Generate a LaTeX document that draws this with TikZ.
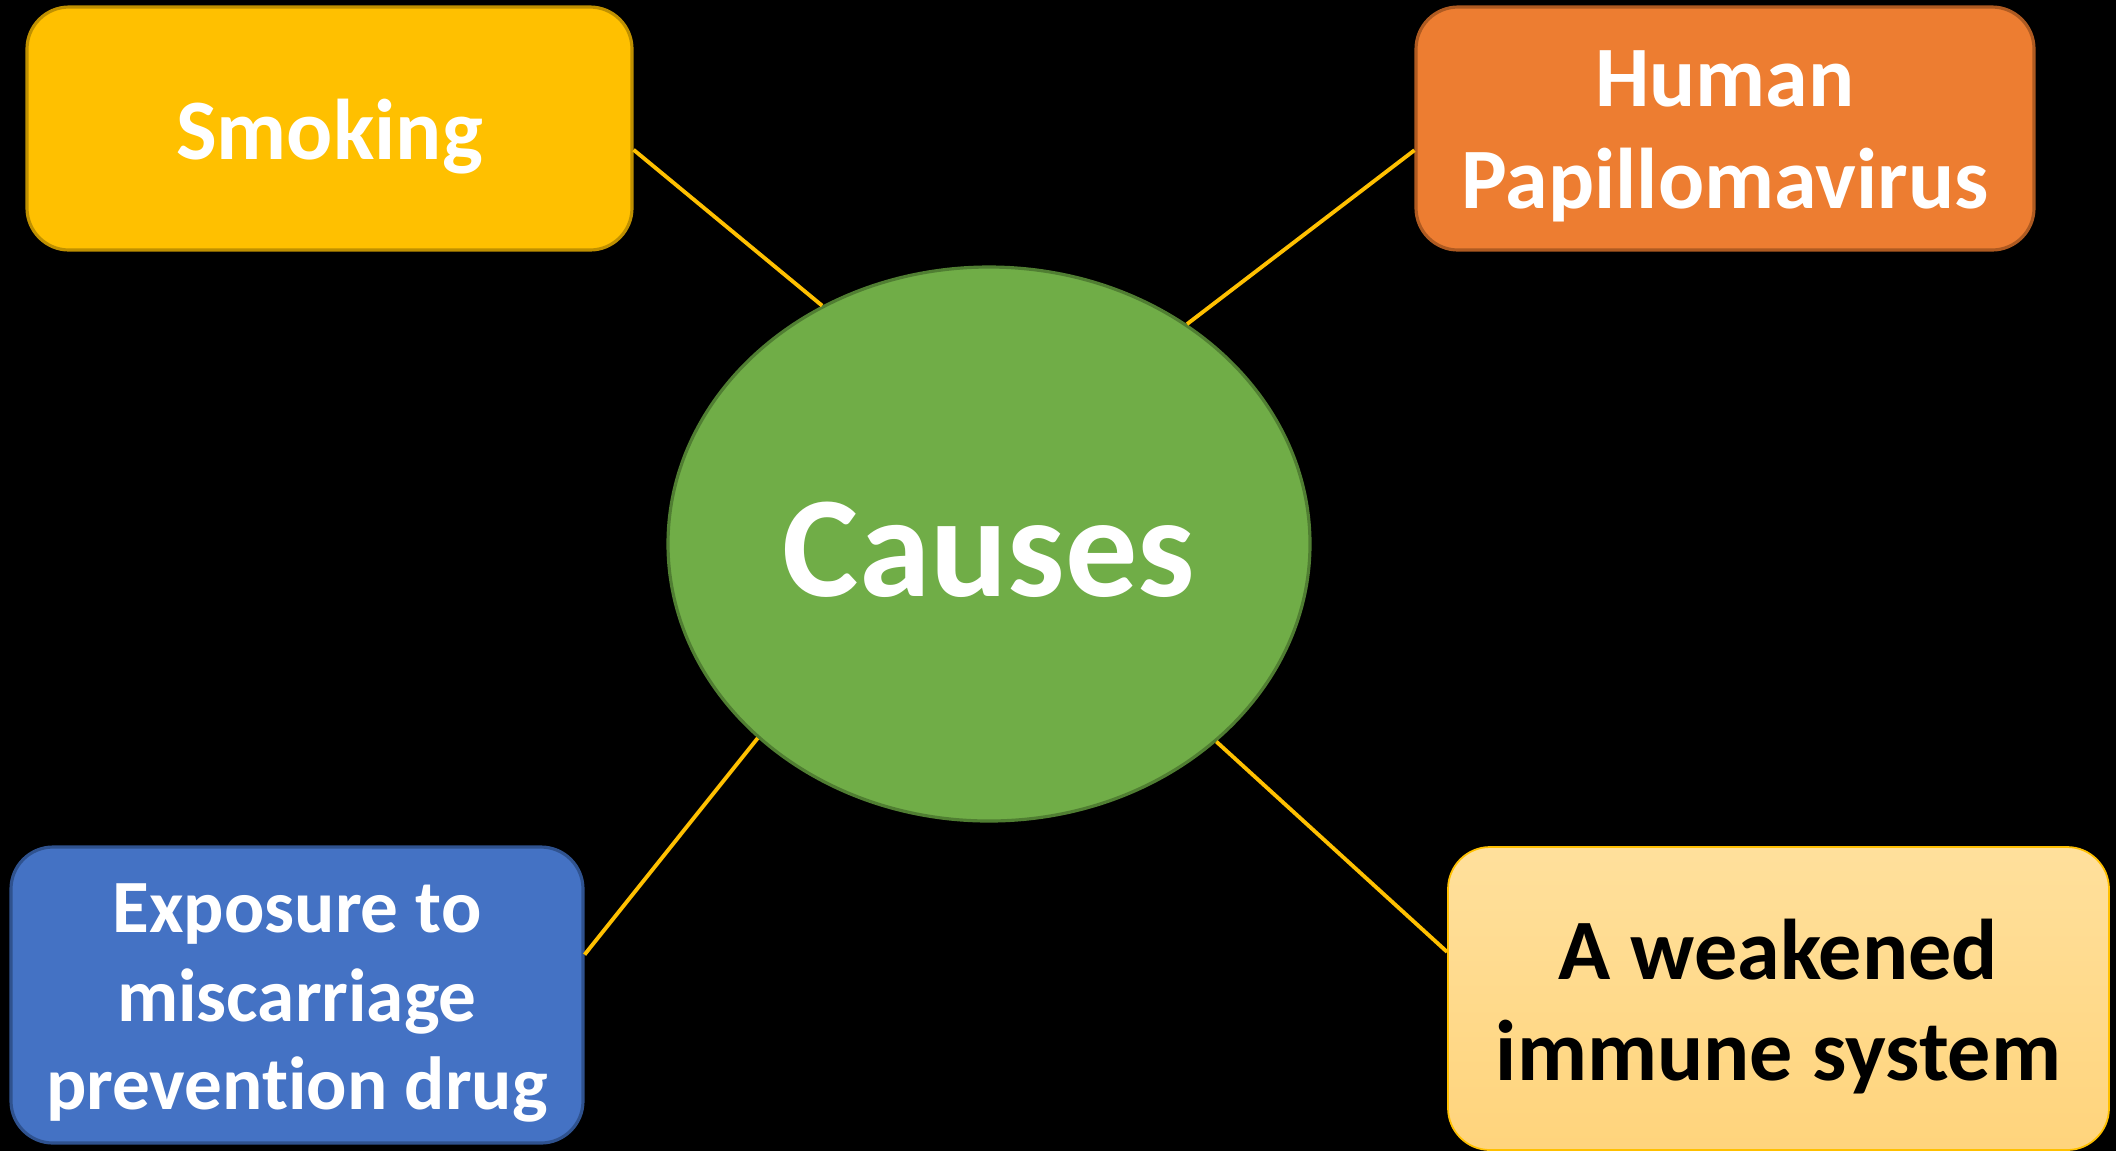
\documentclass[tikz,border=0pt]{standalone}
\usepackage{fontspec}
\setmainfont{Carlito}[Ligatures=NoCommon]
\usepackage{tikz}
\usetikzlibrary{shapes.geometric}

\definecolor{smokeyellow}{HTML}{FFC000}
\definecolor{smokeedge}{HTML}{BF9000}
\definecolor{hpvorange}{HTML}{ED7D31}
\definecolor{hpvedge}{HTML}{AE5A21}
\definecolor{expoblue}{HTML}{4472C4}
\definecolor{expoedge}{HTML}{2F528F}
\definecolor{weaktop}{HTML}{FFE09C}
\definecolor{weakbottom}{HTML}{FFD47C}
\definecolor{hubgreen}{HTML}{70AD47}
\definecolor{hubedge}{HTML}{507E32}

\begin{document}
\begin{tikzpicture}[
	causebox/.style={rectangle, rounded corners=0.42cm, line width=0.9pt, inner sep=0pt},
	boxtext/.style={align=center, inner sep=0pt, font=\bfseries\fontsize{24.5}{29}\selectfont},
	hub/.style={ellipse, line width=0.9pt, inner sep=0pt},
	link/.style={draw=smokeyellow, line width=1.1pt}
	]
	\useasboundingbox (0,0) rectangle (21.16,-11.51);
	\fill[black] (0,0) rectangle (21.16,-11.51);
	\node[hub, fill=hubgreen, draw=hubedge, minimum width=6.42cm, minimum height=5.54cm] (causes) at (9.89,-5.44) {};
	\node[causebox, fill=smokeyellow, draw=smokeedge, minimum width=6.05cm, minimum height=2.43cm] (smoking) at (3.295,-1.285) {};
	\node[causebox, fill=hpvorange, draw=hpvedge, minimum width=6.18cm, minimum height=2.43cm] (hpv) at (17.25,-1.285) {};
	\node[causebox, fill=expoblue, draw=expoedge, minimum width=5.72cm, minimum height=2.96cm] (exposure) at (2.97,-9.95) {};
	\node[causebox, top color=weaktop, bottom color=weakbottom, draw=smokeyellow, line width=0.5pt, minimum width=6.61cm, minimum height=3.03cm] (weakened) at (17.785,-9.985) {};

	\node[boxtext, text=white, font=\bfseries\fontsize{41}{48}\selectfont] (causestext) at ([yshift=-0.06cm]causes.center) {Causes};
	\node[boxtext, text=white] (smokingtext) at ([yshift=-0.08cm]smoking.center) {Smoking};
	\node[boxtext, text=white] (hpvtext) at ([yshift=-0.08cm]hpv.center) {Human\\Papillomavirus};
	\node[boxtext, text=white, font=\bfseries\fontsize{21.4}{25.3}\selectfont] (exposuretext) at ([yshift=-0.08cm]exposure.center) {Exposure to\\miscarriage\\prevention drug};
	\node[boxtext, text=black] (weakenedtext) at ([yshift=-0.08cm]weakened.center) {A weakened\\immune system};

	\draw[link] (smoking.-4.25) -- (causes.125.2);
	\draw[link] (hpv.184.2) -- (causes.48);
	\draw[link] (exposure.8.5) -- (causes.220.95);
	\draw[link] (weakened.172.3) -- (causes.-41.4);
\end{tikzpicture}
\end{document}
